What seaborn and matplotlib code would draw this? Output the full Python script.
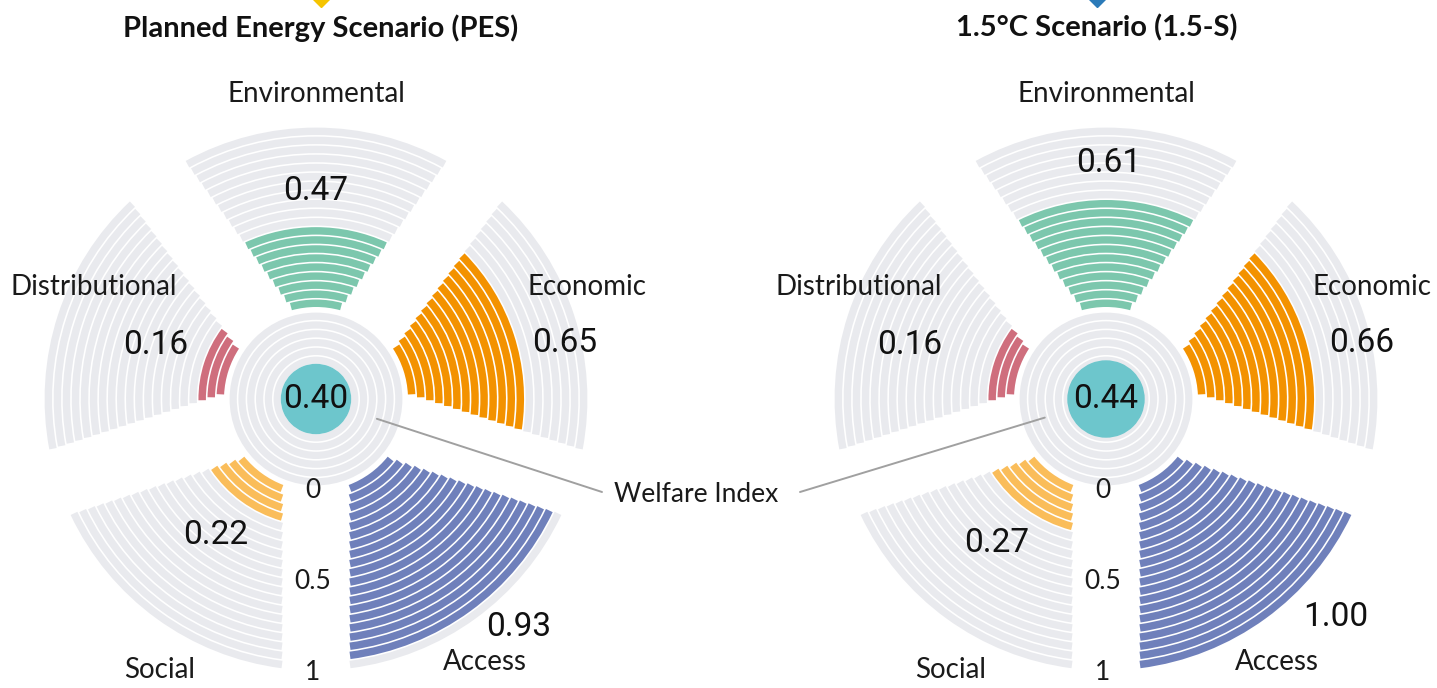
import numpy as np
import matplotlib
matplotlib.use("Agg")
import matplotlib.pyplot as plt
import seaborn as sns

# ---- data ----
categories = ["Environmental", "Economic", "Access", "Social", "Distributional"]
scenarios = ["Planned Energy Scenario (PES)", "1.5°C Scenario (1.5-S)"]
pes_values = [0.47, 0.65, 0.93, 0.22, 0.16]
s15_values = [0.61, 0.66, 1.00, 0.27, 0.16]
welfare_index = [0.40, 0.44]
axis_ticks = [0, 0.5, 1]
tick_labels = ["0", "0.5", "1"]

# ---- styling / layout ----
cat_colors = ["#7cc7ad", "#f39200", "#6f80bb", "#fabd5a", "#cf6e7d"]
scenario_marker_colors = ["#f5c400", "#2b7bb9"]
RING_GRAY = "#e9eaee"
TEAL = "#6dc6cc"

W, H = 1437, 688
centers_px = [(316, 399), (1106, 399)]
N_RINGS = 20
R_IN, R_OUT = 92, 273
PAD = 34
CENTER_R = 88
N_CENTER = 10
RING_GAP = 1.6
R_LIM = 300

# label offsets (px from the chart centre, y down)
cat_label_pos = [
    [(0, -305), (271, -112), (169, 263), (-156, 271), (-222, -112)],
    [(0, -305), (266, -112), (171, 263), (-155, 271), (-247, -112)],
]
value_label_pos = [
    [(0, -208), (249, -56), (203, 228), (-100, 136), (-160, -54)],
    [(3, -236), (256, -56), (230, 218), (-109, 144), (-196, -54)],
]


def radius(v):
    return R_IN + v * (R_OUT - R_IN)


def put(ax, dx, dy, s, **kw):
    theta = np.arctan2(dx, -dy)
    r = np.hypot(dx, dy)
    ax.text(theta, r, s, ha="center", va="center", clip_on=False, **kw)


def draw_sector(ax, k, value, color):
    theta_c = np.radians(72 * k)
    edges = np.linspace(R_IN, R_OUT, N_RINGS + 1)
    bottoms = edges[:-1]
    heights = np.full(N_RINGS, edges[1] - edges[0] - RING_GAP)
    mids = bottoms + heights / 2
    half = np.radians(36) - np.arcsin(PAD / mids)
    n_col = int(round(value * N_RINGS))
    colors = [color] * n_col + [RING_GRAY] * (N_RINGS - n_col)
    ax.bar(np.full(N_RINGS, theta_c), heights, width=2 * half, bottom=bottoms,
           color=colors, linewidth=0, align="center")


def draw_center(ax, wi):
    edges = np.linspace(0, CENTER_R, N_CENTER + 1)
    bottoms = edges[:-1]
    heights = np.full(N_CENTER, edges[1] - edges[0] - RING_GAP)
    ax.bar(np.zeros(N_CENTER), heights, width=2 * np.pi, bottom=bottoms,
           color=RING_GRAY, linewidth=0, align="center")
    ax.bar(0, wi * CENTER_R, width=2 * np.pi, bottom=0, color=TEAL,
           linewidth=0, align="center")


sns.set_theme(style="white")
plt.rcParams["font.family"] = ["Lato", "DejaVu Sans"]
num_font = ["Roboto", "DejaVu Sans"]

fig = plt.figure(figsize=(W / 100, H / 100), dpi=100)

all_values = [pes_values, s15_values]
for c, (cx, cy) in enumerate(centers_px):
    ax = fig.add_axes([(cx - R_LIM) / W, (H - cy - R_LIM) / H, 2 * R_LIM / W, 2 * R_LIM / H],
                      projection="polar")
    ax.set_theta_zero_location("N")
    ax.set_theta_direction(-1)
    ax.set_ylim(0, R_LIM)
    ax.set_axis_off()

    for k, (val, col) in enumerate(zip(all_values[c], cat_colors)):
        draw_sector(ax, k, val, col)
        put(ax, *cat_label_pos[c][k], categories[k], fontsize=20, color="#1a1a1a")
        put(ax, *value_label_pos[c][k], f"{val:.2f}", fontsize=24,
            color="#111111", family=num_font)

    draw_center(ax, welfare_index[c])
    ax.text(0, 0, f"{welfare_index[c]:.2f}", ha="center", va="center",
            fontsize=24, color="#111111", family=num_font)

    for t, lab in zip(axis_ticks, tick_labels):
        put(ax, -3, radius(t), lab, fontsize=19, color="#1a1a1a")

# overlay in pixel coordinates for titles and the welfare callout
ov = fig.add_axes([0, 0, 1, 1], zorder=5)
ov.set_xlim(0, W)
ov.set_ylim(H, 0)
ov.axis("off")
ov.patch.set_alpha(0)

title_x = [321, 1097]
for c, name in enumerate(scenarios):
    ov.text(title_x[c], 28, name, ha="center", va="center", fontsize=21,
            fontweight="bold", color="#111111")
    ov.plot([title_x[c]], [-4], marker="D", markersize=11,
            color=scenario_marker_colors[c], clip_on=True)

label_xy = (696, 495)
ov.text(*label_xy, "Welfare Index", ha="center", va="center", fontsize=19,
        color="#1a1a1a")
line_ends = [(602, 492), (800, 492)]
for (cx, cy), (ex, ey) in zip(centers_px, line_ends):
    d = np.array([ex - cx, ey - cy], dtype=float)
    d /= np.hypot(*d)
    sx, sy = cx + 64 * d[0], cy + 64 * d[1]
    ov.plot([sx, ex], [sy, ey], color="#a0a0a0", linewidth=1.4)

fig.savefig("out.png", dpi=100)
